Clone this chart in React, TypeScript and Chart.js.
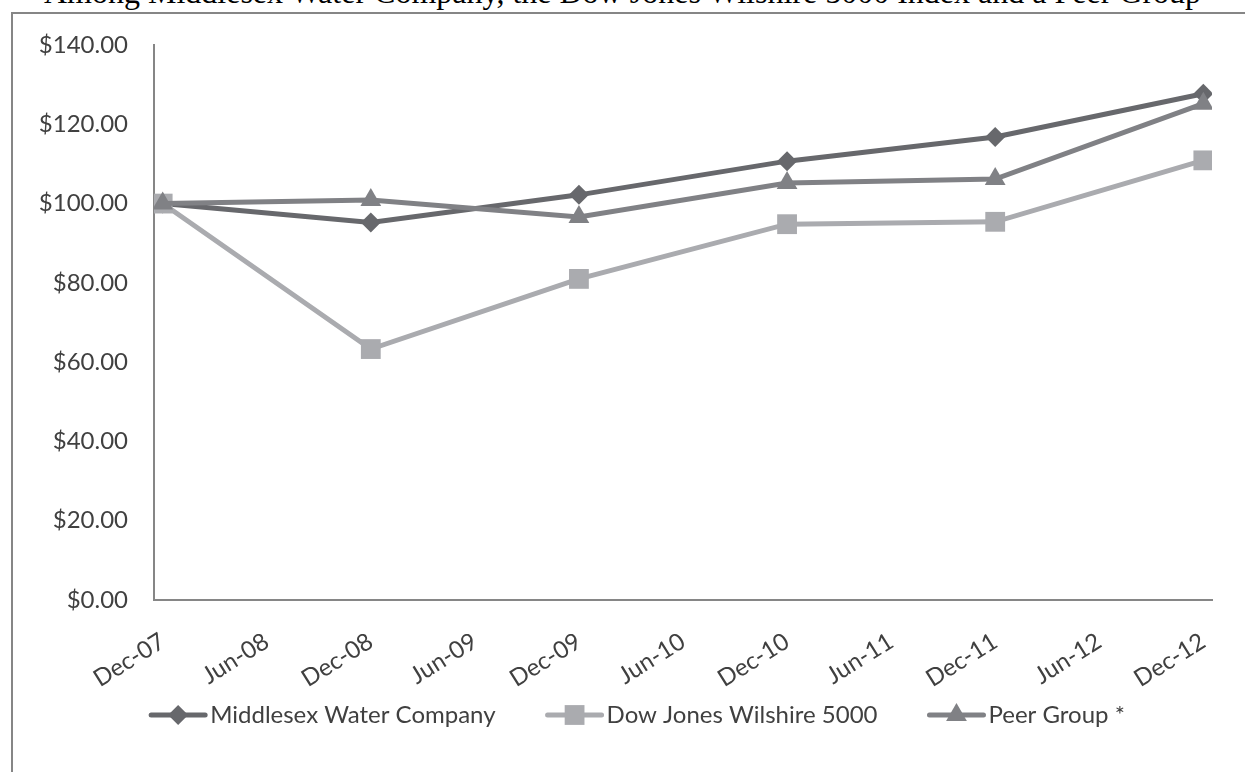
import React, { useEffect, useRef } from "react";
import { Chart, registerables } from "chart.js";

Chart.register(...registerables);

const titleText = "Among Middlesex Water Company, the Dow Jones Wilshire 5000 Index and a Peer Group";
const xTickLabels = ["Dec-07", "Jun-08", "Dec-08", "Jun-09", "Dec-09", "Jun-10", "Dec-10", "Jun-11", "Dec-11", "Jun-12", "Dec-12"];
const xTickMonths = [0, 6, 12, 18, 24, 30, 36, 42, 48, 54, 60];
const pointMonths = [0, 12, 24, 36, 48, 60];
const seriesNames = ["Middlesex Water Company", "Dow Jones Wilshire 5000", "Peer Group *"];
const middlesex = [100, 95.2, 102.2, 110.7, 116.8, 127.7];
const dowJones = [100, 63.3, 81.0, 94.8, 95.4, 110.9];
const peerGroup = [100, 100.9, 96.6, 105.2, 106.2, 125.2];

const COLORS = ["#67686c", "#aaabaf", "#808185"];
const STYLES = ["rectRot", "rect", "triangle"];
const RADII = [10, 14, 12];
const FONT = "Lato, 'Open Sans', sans-serif";
const TEXT = "#404040";
const AXIS = "#868686";

function drawMarker(ctx: CanvasRenderingContext2D, style: string, r: number, x: number, y: number, color: string) {
  ctx.fillStyle = color;
  ctx.beginPath();
  if (style === "rectRot") {
    ctx.moveTo(x, y - r);
    ctx.lineTo(x + r, y);
    ctx.lineTo(x, y + r);
    ctx.lineTo(x - r, y);
  } else if (style === "rect") {
    const s = Math.SQRT1_2 * r;
    ctx.rect(x - s, y - s, 2 * s, 2 * s);
  } else {
    for (let k = 0; k < 3; k++) {
      const a = (k * 2 * Math.PI) / 3;
      const px = x + Math.sin(a) * r;
      const py = y - Math.cos(a) * r;
      if (k === 0) ctx.moveTo(px, py);
      else ctx.lineTo(px, py);
    }
  }
  ctx.closePath();
  ctx.fill();
}

const legendPlugin = {
  id: "lineLegend",
  afterDraw(chart: any) {
    const ctx = chart.ctx;
    ctx.save();
    ctx.font = `24px ${FONT}`;
    const lineW = 58;
    const gapText = 3;
    const gapItem = 50;
    const widths = seriesNames.map((n) => lineW + gapText + ctx.measureText(n).width);
    const total = widths.reduce((a: number, b: number) => a + b, 0) + gapItem * (seriesNames.length - 1);
    let x = 637 - total / 2;
    const y = 715;
    seriesNames.forEach((name, i) => {
      ctx.strokeStyle = COLORS[i];
      ctx.lineWidth = 5;
      ctx.lineCap = "round";
      ctx.beginPath();
      ctx.moveTo(x + 2, y);
      ctx.lineTo(x + lineW - 2, y);
      ctx.stroke();
      drawMarker(ctx, STYLES[i], RADII[i], x + lineW / 2, y, COLORS[i]);
      ctx.fillStyle = TEXT;
      ctx.textBaseline = "middle";
      ctx.textAlign = "left";
      ctx.fillText(name, x + lineW + gapText, y);
      x += widths[i] + gapItem;
    });
    ctx.restore();
  },
};

export default function App() {
  const ref = useRef<HTMLCanvasElement | null>(null);
  useEffect(() => {
    if (!ref.current) return;
    const allSeries = [middlesex, dowJones, peerGroup];
    const chart = new Chart(ref.current, {
      type: "line",
      data: {
        datasets: allSeries.map((s, i) => ({
          label: seriesNames[i],
          data: s.map((v, j) => ({ x: pointMonths[j], y: v })),
          borderColor: COLORS[i],
          backgroundColor: COLORS[i],
          pointBackgroundColor: COLORS[i],
          pointBorderColor: COLORS[i],
          pointBorderWidth: 0,
          borderWidth: 5,
          pointStyle: STYLES[i] as any,
          pointRadius: RADII[i],
          tension: 0,
          order: [2, 1, 0][i],
        })),
      },
      options: {
        animation: false,
        responsive: false,
        maintainAspectRatio: false,
        layout: { padding: { left: 0, top: 45, right: 33, bottom: 72 } },
        plugins: { legend: { display: false }, tooltip: { enabled: false }, title: { display: false } },
        scales: {
          x: {
            type: "linear",
            min: -0.5,
            max: 60.5,
            offset: false,
            grid: { display: false, drawTicks: false },
            border: { display: true, color: AXIS, width: 2 },
            afterBuildTicks: (scale: any) => {
              scale.ticks = xTickMonths.map((v) => ({ value: v }));
            },
            afterFit: (scale: any) => {
              scale.height = 100;
              scale.paddingLeft = 0;
              scale.paddingRight = 0;
            },
            ticks: {
              autoSkip: false,
              minRotation: 32,
              maxRotation: 32,
              padding: 27,
              color: TEXT,
              font: { family: FONT, size: 24 },
              callback: (v: any) => {
                const idx = xTickMonths.indexOf(Number(v));
                return idx >= 0 ? xTickLabels[idx] : "";
              },
            },
          },
          y: {
            min: 0,
            max: 140,
            grid: { display: false, drawTicks: false },
            border: { display: true, color: AXIS, width: 2 },
            afterFit: (scale: any) => {
              scale.width = 154;
              scale.paddingTop = 0;
              scale.paddingBottom = 0;
            },
            ticks: {
              stepSize: 20,
              padding: 26,
              color: TEXT,
              font: { family: FONT, size: 24 },
              callback: (v: any) => "$" + Number(v).toFixed(2),
            },
          },
        },
      },
      plugins: [legendPlugin],
    });
    return () => chart.destroy();
  }, []);
  return (
    <div style={{ position: "fixed", left: 0, top: 0, width: 1245, height: 772, background: "#fff", overflow: "hidden" }}>
      <div
        style={{
          position: "absolute",
          left: 0,
          width: 1245,
          top: -26,
          textAlign: "center",
          fontFamily: "'Liberation Serif', 'Times New Roman', serif",
          fontSize: 32,
          color: "#000",
          whiteSpace: "nowrap",
        }}
      >
        {titleText}
      </div>
      <div
        style={{
          position: "absolute",
          left: 11,
          top: 12,
          width: 1300,
          height: 800,
          border: `2px solid ${AXIS}`,
          boxSizing: "border-box",
        }}
      />
      <canvas ref={ref} width={1245} height={772} style={{ position: "absolute", left: 0, top: 0 }} />
    </div>
  );
}
